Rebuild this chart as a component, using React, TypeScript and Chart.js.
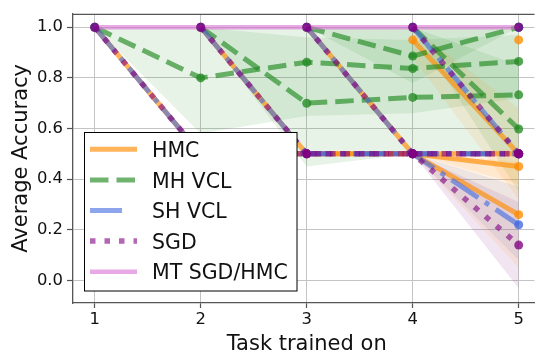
import React, { useEffect, useRef } from "react";
import { Chart, registerables } from "chart.js";

Chart.register(...registerables);

// ---------------- data ----------------
const TASKS = [1, 2, 3, 4, 5];
const X_TICKS = [1, 2, 3, 4, 5];
const Y_TICKS = [0, 0.2, 0.4, 0.6, 0.8, 1.0];
const X_TITLE = "Task trained on";
const Y_TITLE = "Average Accuracy";
const LEGEND_LABELS = ["HMC", "MH VCL", "SH VCL", "SGD", "MT SGD/HMC"];

// one row per task line (accuracy on task k after training on task x)
const HMC_MEAN = [
  [1.0, 0.5, 0.5, 0.5, 0.45],
  [null, 1.0, 0.5, 0.5, 0.5],
  [null, null, 1.0, 0.5, 0.26],
  [null, null, null, 0.95, 0.5],
  [null, null, null, null, 0.95],
];
const HMC_LOW = [
  [1.0, 0.5, 0.5, 0.5, 0.38],
  [null, 1.0, 0.5, 0.5, 0.5],
  [null, null, 1.0, 0.5, 0.05],
  [null, null, null, 0.88, 0.32],
  [null, null, null, null, 0.95],
];
const HMC_HIGH = [
  [1.0, 0.5, 0.5, 0.5, 0.52],
  [null, 1.0, 0.5, 0.5, 0.5],
  [null, null, 1.0, 0.5, 0.47],
  [null, null, null, 1.0, 0.68],
  [null, null, null, null, 0.95],
];

const MHVCL_MEAN = [
  [1.0, 0.8, 0.862, 0.837, 0.865],
  [null, 1.0, 0.7, 0.723, 0.733],
  [null, null, 1.0, 0.886, 1.0],
  [null, null, null, 1.0, 0.598],
  [null, null, null, null, 1.0],
];
const MHVCL_LOW = [
  [1.0, 0.58, 0.65, 0.66, 0.72],
  [null, 1.0, 0.45, 0.5, 0.5],
  [null, null, 1.0, 0.78, 1.0],
  [null, null, null, 1.0, 0.35],
  [null, null, null, null, 1.0],
];
const MHVCL_HIGH = [
  [1.0, 1.0, 1.0, 1.0, 1.0],
  [null, 1.0, 0.96, 0.95, 0.97],
  [null, null, 1.0, 1.0, 1.0],
  [null, null, null, 1.0, 0.85],
  [null, null, null, null, 1.0],
];

const SHVCL_MEAN = [
  [1.0, 0.5, 0.5, 0.5, 0.5],
  [null, 1.0, 0.5, 0.5, 0.5],
  [null, null, 1.0, 0.5, 0.22],
  [null, null, null, 1.0, 0.5],
  [null, null, null, null, 1.0],
];
const SHVCL_LOW = [
  [1.0, 0.5, 0.5, 0.5, 0.5],
  [null, 1.0, 0.5, 0.5, 0.5],
  [null, null, 1.0, 0.5, 0.08],
  [null, null, null, 1.0, 0.5],
  [null, null, null, null, 1.0],
];
const SHVCL_HIGH = [
  [1.0, 0.5, 0.5, 0.5, 0.5],
  [null, 1.0, 0.5, 0.5, 0.5],
  [null, null, 1.0, 0.5, 0.37],
  [null, null, null, 1.0, 0.5],
  [null, null, null, null, 1.0],
];

const SGD_MEAN = [
  [1.0, 0.5, 0.5, 0.5, 0.5],
  [null, 1.0, 0.5, 0.5, 0.5],
  [null, null, 1.0, 0.5, 0.14],
  [null, null, null, 1.0, 0.5],
  [null, null, null, null, 1.0],
];
const SGD_LOW = [
  [1.0, 0.5, 0.5, 0.5, 0.5],
  [null, 1.0, 0.5, 0.5, 0.5],
  [null, null, 1.0, 0.5, -0.03],
  [null, null, null, 1.0, 0.5],
  [null, null, null, null, 1.0],
];
const SGD_HIGH = [
  [1.0, 0.5, 0.5, 0.5, 0.5],
  [null, 1.0, 0.5, 0.5, 0.5],
  [null, null, 1.0, 0.5, 0.31],
  [null, null, null, 1.0, 0.5],
  [null, null, null, null, 1.0],
];

const MT_MEAN = [1.0, 1.0, 1.0, 1.0, 1.0];

// ---------------- styles ----------------
const C_HMC = [255, 140, 0];
const C_MH = [34, 139, 34];
const C_SH = [65, 105, 225];
const C_SGD = [128, 0, 128];
const C_MT = [218, 112, 214];
const FONT = '"DejaVu Sans", "Liberation Sans", sans-serif';
const SPINE = "#555555";
const GRID = "#c4c4c4";

const rgba = (c: number[], a: number) => `rgba(${c[0]},${c[1]},${c[2]},${a})`;

type Style = {
  color: number[];
  width: number;
  dash: number[];
  lineAlpha: number;
  legendLen: number;
};

const STYLES: Style[] = [
  { color: C_HMC, width: 5, dash: [], lineAlpha: 0.65, legendLen: 47 },
  { color: C_MH, width: 5, dash: [18.5, 8], lineAlpha: 0.65, legendLen: 47 },
  { color: C_SH, width: 5, dash: [32, 8, 5, 8], lineAlpha: 0.6, legendLen: 34 },
  { color: C_SGD, width: 5.5, dash: [5.5, 9], lineAlpha: 0.6, legendLen: 47 },
  { color: C_MT, width: 4.5, dash: [], lineAlpha: 0.6, legendLen: 47 },
];

const toPts = (row: (number | null)[]) =>
  row
    .map((v, i) => (v == null ? null : { x: TASKS[i], y: v }))
    .filter((p) => p !== null) as { x: number; y: number }[];

function buildDatasets() {
  const ds: any[] = [];
  const bands: [any[], any[], number[]][] = [
    [HMC_LOW, HMC_HIGH, C_HMC],
    [MHVCL_LOW, MHVCL_HIGH, C_MH],
    [SHVCL_LOW, SHVCL_HIGH, C_SH],
    [SGD_LOW, SGD_HIGH, C_SGD],
  ];
  for (const [lows, highs, col] of bands) {
    for (let k = 0; k < lows.length; k++) {
      const lo = toPts(lows[k]);
      const hi = toPts(highs[k]);
      if (lo.length < 2) continue;
      const differs = lo.some((p, i) => Math.abs(p.y - hi[i].y) > 1e-6);
      if (!differs) continue;
      ds.push({
        data: hi,
        fill: "+1",
        backgroundColor: rgba(col, 0.1),
        borderColor: "rgba(0,0,0,0)",
        borderWidth: 1,
        pointRadius: 0,
        order: 100,
      });
      ds.push({
        data: lo,
        fill: false,
        borderColor: "rgba(0,0,0,0)",
        borderWidth: 1,
        pointRadius: 0,
        order: 100,
      });
    }
  }
  const means = [HMC_MEAN, MHVCL_MEAN, SHVCL_MEAN, SGD_MEAN];
  const orders = [6, 5, 4, 2];
  means.forEach((rows, m) => {
    const st = STYLES[m];
    rows.forEach((row) => {
      ds.push({
        data: toPts(row),
        fill: false,
        borderColor: rgba(st.color, st.lineAlpha),
        borderWidth: st.width,
        borderDash: st.dash,
        borderCapStyle: "butt",
        borderJoinStyle: "round",
        pointRadius: 4.5,
        pointBorderWidth: 0,
        pointBackgroundColor: rgba(st.color, 0.78),
        pointBorderColor: "rgba(0,0,0,0)",
        tension: 0,
        order: orders[m],
      });
    });
  });
  ds.push({
    data: toPts(MT_MEAN),
    fill: false,
    borderColor: rgba(C_MT, STYLES[4].lineAlpha),
    borderWidth: STYLES[4].width,
    borderCapStyle: "butt",
    pointRadius: 0,
    order: 3,
  });
  return ds;
}

const overlayPlugin = {
  id: "overlay",
  afterDraw(chart: any) {
    const ctx = chart.ctx as CanvasRenderingContext2D;
    const a = chart.chartArea;
    ctx.save();
    // top spine
    ctx.strokeStyle = SPINE;
    ctx.lineWidth = 1.3;
    ctx.beginPath();
    ctx.moveTo(a.left, a.top + 0.5);
    ctx.lineTo(a.right, a.top + 0.5);
    ctx.stroke();

    // axis titles
    ctx.fillStyle = "#111";
    ctx.font = `21px ${FONT}`;
    ctx.textAlign = "center";
    ctx.textBaseline = "alphabetic";
    const xs = chart.scales.x;
    const xCenter = (xs.getPixelForValue(0.8) + xs.getPixelForValue(5.2)) / 2;
    ctx.fillText(X_TITLE, xCenter, 350);
    ctx.save();
    ctx.translate(27, (a.top + a.bottom) / 2);
    ctx.rotate(-Math.PI / 2);
    ctx.fillText(Y_TITLE, 0, 0);
    ctx.restore();

    // legend
    const bx = 84.5, by = 132.5, bw = 212.5, bh = 158.5;
    ctx.fillStyle = "#ffffff";
    ctx.fillRect(bx, by, bw, bh);
    ctx.strokeStyle = "#000";
    ctx.lineWidth = 1;
    ctx.strokeRect(bx, by, bw, bh);
    const rowY = [149.3, 180, 210.5, 241, 271.7];
    ctx.font = `20.5px ${FONT}`;
    ctx.textAlign = "left";
    ctx.textBaseline = "alphabetic";
    LEGEND_LABELS.forEach((lab, i) => {
      const st = STYLES[i];
      ctx.save();
      ctx.beginPath();
      ctx.rect(90, rowY[i] - 10, st.legendLen, 20);
      ctx.clip();
      ctx.strokeStyle = rgba(st.color, st.lineAlpha);
      ctx.lineWidth = st.width;
      ctx.lineCap = "butt";
      ctx.setLineDash(st.dash);
      ctx.beginPath();
      ctx.moveTo(90, rowY[i]);
      ctx.lineTo(137, rowY[i]);
      ctx.stroke();
      ctx.restore();
      ctx.fillStyle = "#111";
      ctx.fillText(lab, 152, rowY[i] + 7.5);
    });
    ctx.restore();
  },
};

export default function App() {
  const ref = useRef<HTMLCanvasElement | null>(null);
  useEffect(() => {
    if (!ref.current) return;
    const chart = new Chart(ref.current, {
      type: "line",
      data: { datasets: buildDatasets() },
      options: {
        responsive: false,
        animation: false,
        devicePixelRatio: 1,
        events: [],
        layout: { padding: { top: 7, left: 0, right: 0, bottom: 0 } },
        plugins: {
          legend: { display: false },
          tooltip: { enabled: false },
          filler: { drawTime: "beforeDatasetsDraw" },
        } as any,
        scales: {
          x: {
            type: "linear",
            min: 0.795,
            max: 5.149,
            afterFit: (s: any) => {
              s.height = 49;
            },
            afterBuildTicks: (s: any) => {
              s.ticks = X_TICKS.map((v) => ({ value: v }));
            },
            ticks: {
              color: "#111",
              font: { family: FONT, size: 16.4 },
              padding: 2,
              maxRotation: 0,
              callback: (v: any) => String(v),
            },
            grid: {
              color: GRID,
              lineWidth: 1,
              tickLength: 5,
              tickColor: SPINE,
              tickWidth: 1.2,
            },
            border: { color: SPINE, width: 1.3 },
          },
          y: {
            type: "linear",
            min: -0.0887,
            max: 1.0528,
            afterFit: (s: any) => {
              s.width = 73;
            },
            afterBuildTicks: (s: any) => {
              s.ticks = Y_TICKS.map((v) => ({ value: v }));
            },
            ticks: {
              color: "#111",
              font: { family: FONT, size: 16.4 },
              padding: 4,
              callback: (v: any) => Number(v).toFixed(1),
            },
            grid: {
              color: GRID,
              lineWidth: 1,
              tickLength: 6,
              tickColor: SPINE,
              tickWidth: 1.2,
            },
            border: { color: SPINE, width: 1.3 },
          },
        },
      },
      plugins: [overlayPlugin],
    });
    return () => chart.destroy();
  }, []);
  return (
    <canvas
      ref={ref}
      width={539}
      height={352}
      style={{ position: "fixed", left: 0, top: 0, width: 539, height: 352, display: "block" }}
    />
  );
}
